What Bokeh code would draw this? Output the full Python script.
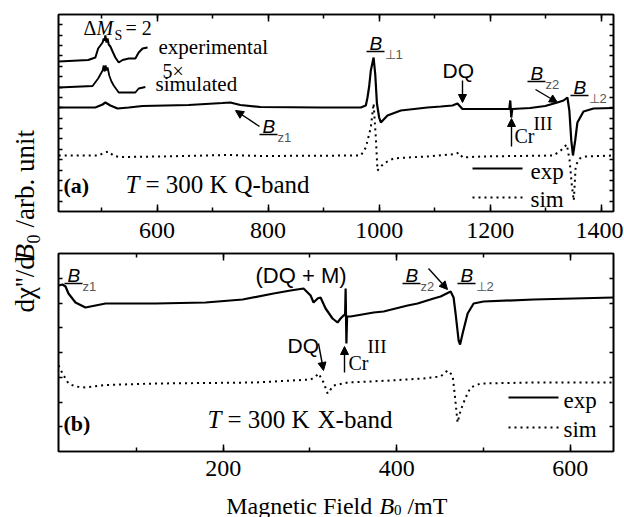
from bokeh.plotting import figure
from bokeh.models import (Range1d, LinearAxis, SingleIntervalTicker, FixedTicker,
                          Arrow, NormalHead, CustomJSTickFormatter)
from bokeh.layouts import row, column
from bokeh.embed import file_html
from bokeh.resources import INLINE
from bokeh.core.properties import value

SERIF = "Liberation Serif"
SANS = "Liberation Sans"

# ---------------- data (B in mT, signal in arb. units) ----------------
# Panel (a): Q-band, experimental spectrum
q_exp_B = [423, 489, 502, 507, 516, 529, 549, 574, 657, 718, 732, 750, 786, 895, 967, 976,
           979, 982, 985, 990, 993, 996, 1000, 1003, 1015, 1039, 1087, 1111, 1132, 1141, 1150,
           1183, 1228, 1234.3, 1236.1, 1237.9, 1239.7, 1272, 1299, 1321, 1332, 1339, 1342.5,
           1346, 1349, 1353, 1357, 1368, 1386, 1422]
q_exp_y = [104, 104, 107, 109, 106, 103, 104, 105.5, 106.5, 108.5, 109, 106.5, 104.5, 104, 104, 106,
           114, 125, 141, 154, 137, 108, 94, 89, 96, 101, 104, 105, 106, 108, 102.5,
           102.5, 102.5, 102.5, 111, 94, 102.5, 103.5, 105.5, 109, 111, 114, 101,
           71, 56, 71, 89, 100, 103, 103.5]
# Panel (a): Q-band, simulated spectrum
q_sim_B = [423, 495, 505, 513, 522, 534, 606, 729, 787, 967, 976, 985, 990, 994, 997, 1008,
           1026, 1051, 1087, 1138, 1143, 1150.5, 1183, 1314, 1327, 1338, 1343, 1347, 1350.5,
           1354, 1361, 1372, 1422]
q_sim_y = [56, 56, 59, 60, 55.5, 54.5, 55, 56.5, 55.5, 56, 64, 84, 108, 74, 41, 48,
           53, 54, 55, 57.5, 59, 54, 55, 56, 61, 67, 51, 26, 11,
           46, 53, 55, 56]
# Panel (a): 5x insets of the Delta Ms = 2 region
q_exp5_B = [423, 476, 489, 494, 502, 504, 505.5, 507, 509, 511, 513, 516, 520, 525, 531, 538,
            549, 561, 567, 574, 583]
q_exp5_y = [150, 151.5, 154, 163, 169, 173, 171, 176, 169, 173, 167, 165, 160, 154, 149, 151.5,
            153, 153, 159, 163, 164]
q_sim5_B = [423, 484, 494, 502, 504, 505.5, 507.5, 509, 511, 514, 518, 522, 531, 543, 561, 567, 579]
q_sim5_y = [124, 125.5, 133, 141, 146, 140, 146, 141, 144, 136, 130, 126, 119, 119, 119, 123, 124.5]

# Panel (b): X-band, experimental spectrum
x_exp_B = [10, 14.6, 18.1, 21.5, 29.6, 41.1, 52.7, 64.2, 121.9, 179.6, 222.3, 258, 277.6, 292.6,
           300.7, 304.1, 308.8, 312.2, 318, 326, 331.8, 335.3, 338.7, 340.5, 341.1, 342, 342.8,
           346.8, 373.4, 384.9, 412.6, 424.1, 442.6, 450.6, 462.2, 465.6, 467.9, 471.4, 473.1,
           476, 481.8, 488.7, 500.2, 557.9, 650]
x_exp_y = [166, 167, 165, 158, 149, 144, 146, 148, 148, 149, 152, 158, 161, 163,
           156, 149, 153, 154, 143, 133, 129, 133, 136, 137, 163, 108, 135,
           135, 139, 140, 146, 148, 153, 155, 160, 154, 138, 111, 107,
           118, 138, 148, 150, 152, 154]
# Panel (b): X-band, simulated spectrum
x_sim_B = [10, 14.6, 21.5, 29.6, 41.1, 64.2, 121.9, 237.2, 300.7, 306.5, 309.9, 315.7, 320.3,
           327.2, 343.4, 393, 431, 450.6, 458.7, 464.5, 466.8, 470.2, 473.7, 479.5, 485.2,
           496.8, 557.9, 650]
x_sim_y = [86, 78, 68, 65, 64, 66.5, 68, 69, 72, 75, 78, 69, 58,
           66, 69, 71, 73, 75, 81, 76, 58, 29, 41, 54, 64,
           68, 69, 69]

Q_XRANGE = (422.6, 1422.0)
X_XRANGE = (10.0, 650.0)
Q_YMAX = 197
X_YMAX = 198
Q_YDIV = 19
X_YDIV = 8

FW = 555
BL, BR = 14, 10
YL_W, TOTAL_H = 44, 517
TDY = 0.24   # baseline correction, fraction of font size


def style_axis(ax, tick_in, minor_in, show_labels, standoff=5):
    ax.axis_line_width = 1.6
    ax.axis_line_color = "black"
    ax.major_tick_in = tick_in
    ax.major_tick_out = 0
    ax.minor_tick_in = minor_in
    ax.minor_tick_out = 0
    ax.major_tick_line_width = 1.5
    ax.minor_tick_line_width = 1.5
    ax.major_tick_line_color = "black"
    ax.minor_tick_line_color = "black" if minor_in else None
    if show_labels:
        ax.major_label_text_font = SERIF
        ax.major_label_text_font_size = "24px"
        ax.major_label_text_color = "black"
        ax.major_label_standoff = standoff
    else:
        ax.formatter = CustomJSTickFormatter(code="return ''")
        ax.major_label_text_font_size = "0px"
        ax.major_label_standoff = 0


def make_panel(xr, ymax, ydiv, btop, bbot, standoff):
    p = figure(frame_width=FW, frame_height=ymax, x_range=Range1d(*xr), y_range=Range1d(0, ymax),
               output_backend="svg", toolbar_location=None,
               min_border_left=BL, min_border_right=BR, min_border_top=btop, min_border_bottom=bbot,
               background_fill_color="white", border_fill_color="white")
    p.grid.visible = False
    p.outline_line_color = "black"
    p.outline_line_width = 1.6
    p.xaxis.ticker = SingleIntervalTicker(interval=200, num_minor_ticks=2)
    style_axis(p.xaxis[0], 7, 4, True, standoff)
    top = LinearAxis(ticker=SingleIntervalTicker(interval=200, num_minor_ticks=2))
    style_axis(top, 7, 4, False)
    p.add_layout(top, "above")
    yt = [ymax * i / ydiv for i in range(1, ydiv)]
    p.yaxis.ticker = FixedTicker(ticks=yt)
    style_axis(p.yaxis[0], 4, 0, False)
    right = LinearAxis(ticker=FixedTicker(ticks=yt))
    style_axis(right, 4, 0, False)
    p.add_layout(right, "right")
    return p


pa = make_panel(Q_XRANGE, Q_YMAX, Q_YDIV, 14, 40, 11)
pb = make_panel(X_XRANGE, X_YMAX, X_YDIV, 2, 37, 9)


# reference-pixel -> data helpers for annotation placement
def conv_a(px, py):
    return (Q_XRANGE[0] + (px - 58) * (Q_XRANGE[1] - Q_XRANGE[0]) / FW, 211 - py)


def conv_b(px, py):
    return (X_XRANGE[0] + (px - 58) * (X_XRANGE[1] - X_XRANGE[0]) / FW, 451 - py)


def tx(p, conv, px, py, s, size, font=SERIF, style="normal", color="black"):
    x, y = conv(px, py)
    p.text(x=[x], y=[y + TDY * size], text=[s], text_font=value(font), text_font_size=f"{size}px",
           text_font_style=style, text_color=color, text_align="left", text_baseline="alphabetic")


def uline(p, conv, px0, px1, py):
    x0, y0 = conv(px0, py)
    x1, y1 = conv(px1, py)
    p.segment(x0=[x0], y0=[y0], x1=[x1], y1=[y1], line_color="black", line_width=1.5)


def arrow(p, conv, p0, p1):
    x0, y0 = conv(*p0)
    x1, y1 = conv(*p1)
    p.add_layout(Arrow(end=NormalHead(size=8, fill_color="black", line_color="black", line_width=1),
                       x_start=x0, y_start=y0, x_end=x1, y_end=y1,
                       line_color="black", line_width=1.4))


def bsym(p, conv, px, py, sub):
    tx(p, conv, px, py, "B", 19, SANS, "italic")
    uline(p, conv, px - 3, px + 15, py + 3)
    tx(p, conv, px + 15, py + 9, sub, 13, SANS, "normal", "#555555")


def legend(p, conv, px0, px1, py_exp, py_sim, tx_x):
    xa, ya = conv(px0, py_exp)
    xb, _ = conv(px1, py_exp)
    p.line([xa, xb], [ya, ya], line_color="black", line_width=2)
    _, ys = conv(px0, py_sim)
    p.line([xa, xb], [ys, ys], line_color="black", line_width=2, line_dash="2 4")
    tx(p, conv, tx_x, py_exp + 9, "exp", 23)
    tx(p, conv, tx_x, py_sim + 8, "sim", 23)


# ---- panel (a) curves ----
pa.line(q_exp_B, q_exp_y, line_color="black", line_width=2.2)
pa.line(q_sim_B, q_sim_y, line_color="black", line_width=2, line_dash="2 4")
pa.line(q_exp5_B, q_exp5_y, line_color="black", line_width=2)
pa.line(q_sim5_B, q_sim5_y, line_color="black", line_width=1.8)

tx(pa, conv_a, 83, 32, "Δ", 20)
tx(pa, conv_a, 96, 32, "M", 20, style="italic")
tx(pa, conv_a, 114, 38, "S", 14)
tx(pa, conv_a, 125, 32, "= 2", 20)
tx(pa, conv_a, 158, 52, "experimental", 21)
tx(pa, conv_a, 162, 75, "5×", 20)
tx(pa, conv_a, 155, 89, "simulated", 21)
bsym(pa, conv_a, 369, 48, "⊥1")
tx(pa, conv_a, 442, 75, "DQ", 21, SANS)
arrow(pa, conv_a, (462, 80), (462, 102))
tx(pa, conv_a, 514, 140, "Cr", 20)
tx(pa, conv_a, 533, 128, "III", 19)
arrow(pa, conv_a, (511, 146), (511, 118))
bsym(pa, conv_a, 530, 78, "z2")
arrow(pa, conv_a, (535, 89), (557, 102))
bsym(pa, conv_a, 573, 92, "⊥2")
bsym(pa, conv_a, 262, 131, "z1")
arrow(pa, conv_a, (259, 126), (235, 110))
tx(pa, conv_a, 63, 190, "(a)", 22, style="bold")
tx(pa, conv_a, 125, 190, "T", 25, style="italic")
tx(pa, conv_a, 145, 190, "= 300 K", 25)
tx(pa, conv_a, 234, 190, "Q-band", 25)
legend(pa, conv_a, 472, 522, 168, 197, 530)

# ---- panel (b) curves ----
pb.line(x_exp_B, x_exp_y, line_color="black", line_width=2.2)
pb.line(x_sim_B, x_sim_y, line_color="black", line_width=2, line_dash="2 4")

bsym(pb, conv_b, 67, 280, "z1")
tx(pb, conv_b, 255, 280, "(DQ + M)", 22, SANS)
tx(pb, conv_b, 287, 350, "DQ", 21, SANS)
arrow(pb, conv_b, (318, 343), (323, 370))
tx(pb, conv_b, 348, 367, "Cr", 20)
tx(pb, conv_b, 367, 351, "III", 19)
arrow(pb, conv_b, (344, 372), (344, 346))
bsym(pb, conv_b, 405, 280, "z2")
arrow(pb, conv_b, (428, 268), (447, 289))
bsym(pb, conv_b, 460, 280, "⊥2")
tx(pb, conv_b, 63, 428, "(b)", 22, style="bold")
tx(pb, conv_b, 207, 425, "T", 25, style="italic")
tx(pb, conv_b, 227, 425, "= 300 K", 25)
tx(pb, conv_b, 317, 425, "X-band", 25)
legend(pb, conv_b, 508, 558, 397, 427, 563)

# ---- axis-title strips ----
ylab = figure(width=YL_W, height=TOTAL_H, x_range=Range1d(0, YL_W), y_range=Range1d(0, TOTAL_H),
              x_axis_type=None, y_axis_type=None, toolbar_location=None, output_backend="svg",
              min_border=0, outline_line_color=None, title=None)
ylab.grid.visible = False


def rt(px, py, s, size, style="normal"):
    ylab.text(x=[px - TDY * size], y=[TOTAL_H - py], text=[s], angle=1.5707963,
              text_font=value(SERIF), text_font_size=f"{size}px", text_font_style=style,
              text_color="black", text_align="left", text_baseline="alphabetic")


rt(31, 312, "dχ''/d", 27)
rt(31, 260, "B", 27, "italic")
rt(37, 243, "0", 18)
rt(31, 227, "/arb. unit", 27)

XL_H = 29
XL_W = BL + FW + BR
xlab = figure(width=XL_W, height=XL_H, x_range=Range1d(0, XL_W), y_range=Range1d(0, XL_H),
              x_axis_type=None, y_axis_type=None, toolbar_location=None, output_backend="svg",
              min_border=0, outline_line_color=None, title=None)
xlab.grid.visible = False


def conv_xl(px, py):
    return (px - YL_W, TOTAL_H - py)


tx(xlab, conv_xl, 219, 511, "Magnetic Field", 24)
tx(xlab, conv_xl, 379, 511, "B", 24, style="italic")
tx(xlab, conv_xl, 394, 513, "0", 15)
tx(xlab, conv_xl, 408, 511, "/mT", 24)

layout = row(ylab, column(pa, pb, xlab))
open("out.html", "w").write(file_html(layout, INLINE))
